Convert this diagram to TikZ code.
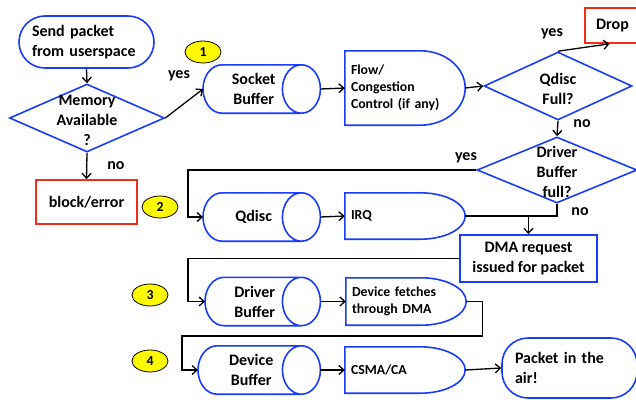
\documentclass[tikz,border=0pt]{standalone}
\usepackage{fontspec}
\setmainfont{Carlito}
\usetikzlibrary{shapes.geometric,arrows.meta,calc}

\definecolor{flowblue}{RGB}{25,60,250}
\definecolor{stopred}{RGB}{240,45,25}
\definecolor{tagyellow}{RGB}{255,250,0}

\newcommand{\bigtext}{\fontsize{16}{20}\selectfont\bfseries}
\newcommand{\smalltext}{\fontsize{13.8}{17}\selectfont\bfseries}

\tikzset{
  blueline/.style={draw=flowblue, line width=1.6pt},
  terminal/.style={rectangle, rounded corners=26pt, blueline, font=\bigtext, align=left, inner xsep=13pt, text width=109pt},
  decision/.style={diamond, blueline, inner sep=0pt},
  stopbox/.style={rectangle, draw=stopred, line width=1.6pt, font=\bigtext},
  % buffers: the outline is drawn later, text sits in the body
  buffer/.style={rectangle, inner sep=0pt, minimum width=#1, minimum height=48pt, anchor=west},
  buffer/.default=117pt,
  buftext/.style={font=\bigtext, align=center, xshift=-8pt},
  stage/.style={rectangle, inner xsep=6pt, text width=108pt, minimum width=120pt, align=left, font=\smalltext},
  numtag/.style={ellipse, draw, line width=0.8pt, fill=tagyellow, minimum width=36pt, minimum height=22pt, inner sep=0pt, font=\smalltext},
  answer/.style={font=\bigtext},
  link/.style={line width=1.3pt, -{Straight Barb[length=5pt,width=9pt]}}
}

\begin{document}
\begin{tikzpicture}[x=1pt,y=-1pt]
    \useasboundingbox (0,0) rectangle (636,399);

    % Send and memory test
    \node[terminal, minimum width=135pt, minimum height=52pt] (send) at (86.5,42) {Send packet\\from userspace};
    \node[decision, minimum width=155pt, minimum height=68pt] (mem) at (87,118) {};
    \node[answer, align=center] (memtext) at (87,120) {Memory\\Available\\?};
    \node[stopbox, minimum width=101pt, minimum height=44pt] (block) at (86.5,202) {block/error};

    % First row
    \node[buffer, label={[buftext]center:{Socket\\Buffer}}] (sock) at (203,89) {};
    \node[stage, minimum height=74pt] (flow) at (405,88) {Flow/\\Congestion\\Control (if any)};
    \node[decision, minimum width=148pt, minimum height=68pt] (qfull) at (558,86) {};
    \node[answer, align=center] (qfulltext) at (558,89) {Qdisc\\Full?};
    \node[stopbox, minimum width=55pt, minimum height=35pt] (drop) at (612.5,25.5) {Drop};
    \node[decision, minimum width=160pt, minimum height=66pt] (dfull) at (557,170) {};
    \node[answer, align=center] (dfulltext) at (557,172) {Driver\\Buffer\\full?};

    % Lower rows
    \node[buffer, label={[buftext]center:Qdisc}] (qdisc) at (203,217) {};
    \node[stage, minimum height=46pt] (irq) at (405,216) {IRQ};
    \node[rectangle, blueline, font=\bigtext, align=center, minimum width=137pt, minimum height=47pt] (dma) at (528.5,258.5) {DMA request\\issued for packet};
    \node[buffer=115pt, label={[buftext]center:{Driver\\Buffer}}] (drvbuf) at (205,301.5) {};
    \node[stage, minimum height=47pt] (fetch) at (406,301.5) {Device fetches\\through DMA};
    \node[buffer=122pt, label={[buftext]center:{Device\\Buffer}}] (devbuf) at (198,370) {};
    \node[stage, minimum height=46pt] (csma) at (405,370) {CSMA/CA};
    \node[terminal, minimum width=135pt, minimum height=60pt] (air) at (569.5,368) {Packet in the\\air!};

    % Outline of the buffers
    \foreach \s in {sock,qdisc,drvbuf,devbuf}
        \draw[blueline] let \p1=(\s.north east), \p2=(\s.south west), \n1={0.5*(\y1-\y2)} in
            (\x2+19pt,\y1) -- (\x1-19pt,\y1) arc[start angle=90, end angle=-270, x radius=19pt, y radius=\n1]
            (\x1-19pt,\y2) -- (\x2+19pt,\y2) arc[start angle=270, end angle=90, x radius=19pt, y radius=\n1];

    % Outline of the stage boxes
    \foreach \s in {flow,irq,fetch,csma}
        \draw[blueline] let \p1=(\s.north east), \p2=(\s.south west), \n1={0.5*(\y1-\y2)} in
            (\x2,\y1) -- (\x1-45pt,\y1) arc[start angle=90, end angle=-90, x radius=45pt, y radius=\n1] -- (\x2,\y2) -- cycle;

    % Step numbers
    \foreach \k/\x/\y in {1/203/52, 2/160/207, 3/150/295, 4/150/361}
        \node[numtag] (tag\k) at (\x,\y) {\k};

    % Connectors
    \draw[link] (send.south) -- (mem.north);
    \draw[link] (mem.south) -- (block.north);
    \draw[link] (mem.east) -- (sock.west);
    \draw[link] (sock.east) -- (flow.west);
    \draw[link] (flow.east) -- (qfull.west);
    \draw[link] (qfull.north) -- ([xshift=-3pt]drop.south);
    \draw[link] (qfull.south) -- (dfull.north);
    \draw[link] (dfull.west) -| ([xshift=-15pt]qdisc.west) -- (qdisc.west);
    \draw[link] (qdisc.east) -- (irq.west);
    \draw[line width=1.3pt] (irq.east) -- (dfull.south |- irq.east) -- (dfull.south);
    \draw[link] (dma.north |- irq.east) -- (dma.north);
    \draw[link] (dma.west) -| ([xshift=-17pt]drvbuf.west) -- (drvbuf.west);
    \draw[link] (drvbuf.east) -- (fetch.west);
    \draw[link] (fetch.east) -- ++(16,0) -- ++(0,34.5) -| ([xshift=-16pt]devbuf.west) -- (devbuf.west);
    \draw[link] (devbuf.east) -- (csma.west);
    \draw[link] (csma.east) -- (air.west);

    % Answers
    \node[answer] (yes1) at (179,76) {yes};
    \node[answer] (no1) at (116,166) {no};
    \node[answer] (yes2) at (552,34) {yes};
    \node[answer] (no2) at (582,124) {no};
    \node[answer] (yes3) at (466,158) {yes};
    \node[answer] (no3) at (580,212) {no};
\end{tikzpicture}
\end{document}
